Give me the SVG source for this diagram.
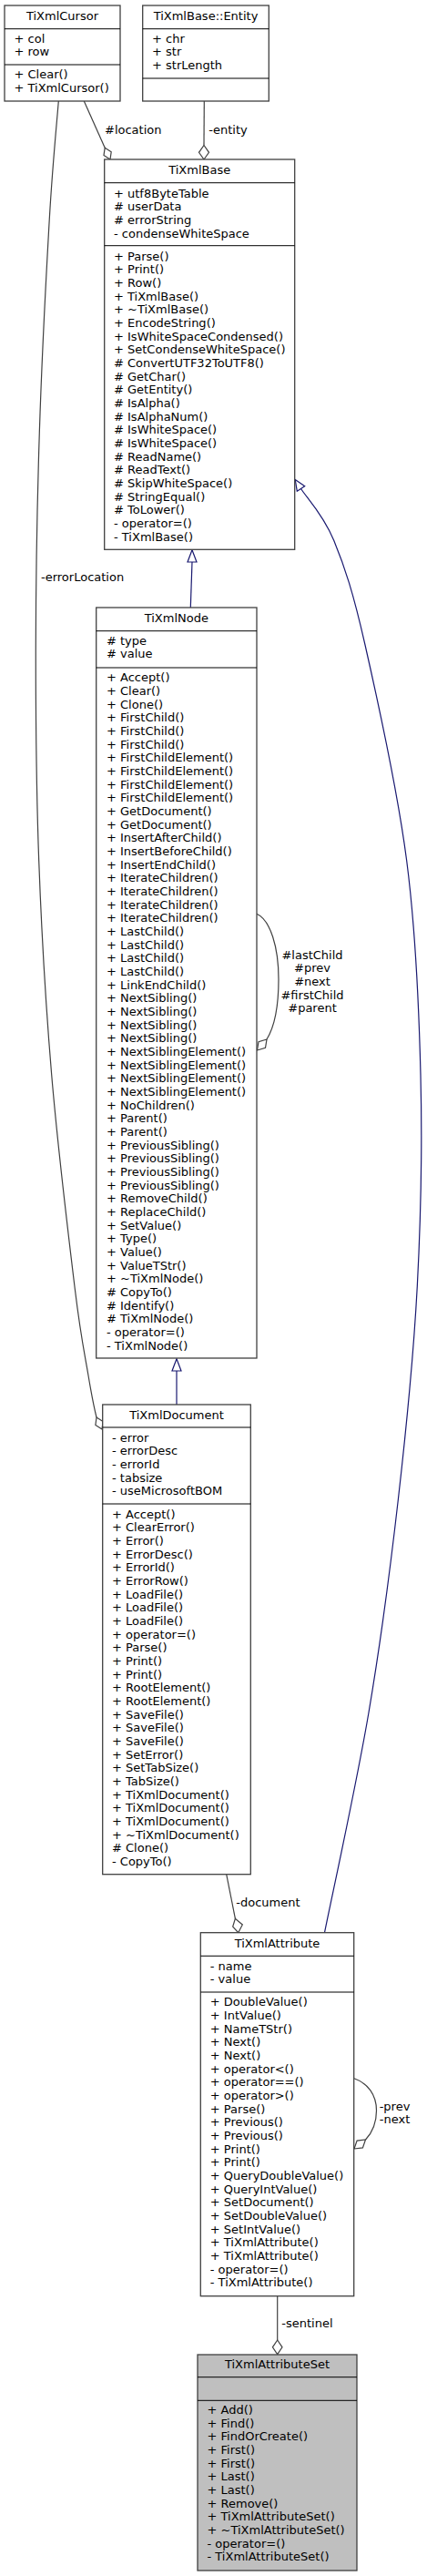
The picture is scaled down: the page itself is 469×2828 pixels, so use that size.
<svg xmlns="http://www.w3.org/2000/svg" width="469" height="2828" viewBox="0 0 469 2828">
<style>
.box{fill:#ffffff;stroke:#404040;stroke-width:1.3}
.sel{fill:#bfbfbf;stroke:#404040;stroke-width:1.3}
.div{stroke:#000000;stroke-width:1}
.t{font-family:"DejaVu Sans",sans-serif;font-size:13px;fill:#000000}
.c{text-anchor:middle}
.agg{fill:none;stroke:#404040;stroke-width:1.2}
.inh{fill:none;stroke:#191970;stroke-width:1.2}
.dia{fill:#ffffff;stroke:#404040;stroke-width:1.2}
.tri{fill:#ffffff;stroke:#191970;stroke-width:1.2}
</style>
<rect width="469" height="2828" fill="#ffffff"/>

<g id="connectors">
  <!-- #location -->
  <path class="agg" d="M92.3,111 L115.2,162.3"/>
  <polygon class="dia" points="121,175 122.2,166.8 115.2,162.3 114,170.5"/>
  <text class="t" x="115" y="146.7">#location</text>
  <!-- -entity -->
  <path class="agg" d="M224.3,111 L224,159.5"/>
  <polygon class="dia" points="224,175 229.5,167.3 224,159.5 218.5,167.3"/>
  <text class="t" x="229.3" y="146.7">-entity</text>
  <!-- -errorLocation -->
  <path class="agg" d="M64.3,111 C62.6,132.5 57.8,179.3 54.3,240 C50.8,300.7 45.8,396.7 43.3,475 C40.8,553.3 39.4,631.7 39.3,710 C39.2,788.3 39.8,866.7 42.7,945 C45.6,1023.3 50.1,1101.7 56.7,1180 C63.3,1258.3 75.6,1360 82.3,1415 C89,1470 93,1486 97,1510 C101,1534 104,1548 106,1556"/>
  <polygon class="dia" points="112,1569 113.1,1560.6 106,1556 104.9,1564.4"/>
  <text class="t" x="45" y="638.3">-errorLocation</text>
  <!-- TiXmlNode -> TiXmlBase -->
  <path class="inh" d="M209.3,667 L211,617"/>
  <polygon class="tri" points="211,603.8 216,617 206,617"/>
  <!-- TiXmlDocument -> TiXmlNode -->
  <path class="inh" d="M194,1542 L194,1505"/>
  <polygon class="tri" points="194,1491.8 199,1505 189,1505"/>
  <!-- TiXmlAttribute -> TiXmlBase -->
  <path class="inh" d="M356.5,2121.7 C364.6,2081.4 391.5,1959.5 405,1880 C418.5,1800.5 428.6,1723 437.5,1645 C446.4,1567 454.2,1489.5 458.3,1412 C462.4,1334.5 463.9,1257.8 462,1180 C460.1,1102.2 456.9,1023.7 446.7,945 C436.5,866.3 414.3,766.6 401,708 C387.7,649.4 378.5,622 366.7,593.3 C355,564.7 336.5,546 330.5,536.5"/>
  <polygon class="tri" points="324.2,526.5 334.7,533.8 326.3,539.2"/>
  <!-- self loop TiXmlNode -->
  <path class="agg" d="M282,1003.3 C297,1010 306,1040 306,1075 C306,1105 301,1128 293,1141"/>
  <polygon class="dia" points="282.5,1153 291.5,1150.3 293,1141 284,1143.7"/>
  <text class="t c" x="343" y="1052.7">#lastChild</text>
  <text class="t c" x="343" y="1067.4">#prev</text>
  <text class="t c" x="343" y="1082">#next</text>
  <text class="t c" x="343" y="1096.7">#firstChild</text>
  <text class="t c" x="343" y="1111.4">#parent</text>
  <!-- -document -->
  <path class="agg" d="M248.7,2057.7 L258.4,2106.3"/>
  <polygon class="dia" points="261.7,2121.7 266.3,2113 258.4,2106.3 255.7,2115.2"/>
  <text class="t" x="259.3" y="2092.7">-document</text>
  <!-- self loop TiXmlAttribute -->
  <path class="agg" d="M389,2281.7 C404,2287 413.5,2300 413.5,2317 C413.5,2330 409,2341 401.5,2349"/>
  <polygon class="dia" points="389,2359 398.4,2357.9 401.5,2349 392.1,2350.1"/>
  <text class="t c" x="433.5" y="2316.7">-prev</text>
  <text class="t c" x="433.5" y="2331.4">-next</text>
  <!-- -sentinel -->
  <path class="agg" d="M304.7,2520.7 L304.7,2569"/>
  <polygon class="dia" points="304.7,2584.7 310,2576.8 304.7,2569 299.4,2576.8"/>
  <text class="t" x="309.3" y="2555">-sentinel</text>
</g>

<g id="TiXmlCursor">
  <rect class="box" x="5" y="6" width="127" height="105"/>
  <line class="div" x1="5" y1="31.7" x2="132" y2="31.7"/>
  <line class="div" x1="5" y1="71" x2="132" y2="71"/>
  <text class="t c" x="68.5" y="21.5">TiXmlCursor</text>
  <text class="t" x="15.5" y="46.5"><tspan x="15.5">+ col</tspan><tspan x="15.5" dy="14.67">+ row</tspan></text>
  <text class="t" x="15.5" y="86"><tspan x="15.5">+ Clear()</tspan><tspan x="15.5" dy="14.67">+ TiXmlCursor()</tspan></text>
</g>

<g id="TiXmlBase_Entity">
  <rect class="box" x="156.7" y="6" width="138.6" height="105"/>
  <line class="div" x1="156.7" y1="31.7" x2="295.3" y2="31.7"/>
  <line class="div" x1="156.7" y1="86" x2="295.3" y2="86"/>
  <text class="t c" x="226" y="21.5">TiXmlBase::Entity</text>
  <text class="t" x="167" y="46.5"><tspan x="167">+ chr</tspan><tspan x="167" dy="14.67">+ str</tspan><tspan x="167" dy="14.67">+ strLength</tspan></text>
</g>

<g id="TiXmlBase">
  <rect class="box" x="114.7" y="175" width="209" height="428.3"/>
  <line class="div" x1="114.7" y1="200.7" x2="323.7" y2="200.7"/>
  <line class="div" x1="114.7" y1="269.7" x2="323.7" y2="269.7"/>
  <text class="t c" x="219.2" y="190.7">TiXmlBase</text>
  <text class="t" x="125" y="216.5"><tspan x="125">+ utf8ByteTable</tspan><tspan x="125" dy="14.67"># userData</tspan><tspan x="125" dy="14.67"># errorString</tspan><tspan x="125" dy="14.67">- condenseWhiteSpace</tspan></text>
  <text class="t" x="125" y="285.5"><tspan x="125">+ Parse()</tspan><tspan x="125" dy="14.67">+ Print()</tspan><tspan x="125" dy="14.67">+ Row()</tspan><tspan x="125" dy="14.67">+ TiXmlBase()</tspan><tspan x="125" dy="14.67">+ ~TiXmlBase()</tspan><tspan x="125" dy="14.67">+ EncodeString()</tspan><tspan x="125" dy="14.67">+ IsWhiteSpaceCondensed()</tspan><tspan x="125" dy="14.67">+ SetCondenseWhiteSpace()</tspan><tspan x="125" dy="14.67"># ConvertUTF32ToUTF8()</tspan><tspan x="125" dy="14.67"># GetChar()</tspan><tspan x="125" dy="14.67"># GetEntity()</tspan><tspan x="125" dy="14.67"># IsAlpha()</tspan><tspan x="125" dy="14.67"># IsAlphaNum()</tspan><tspan x="125" dy="14.67"># IsWhiteSpace()</tspan><tspan x="125" dy="14.67"># IsWhiteSpace()</tspan><tspan x="125" dy="14.67"># ReadName()</tspan><tspan x="125" dy="14.67"># ReadText()</tspan><tspan x="125" dy="14.67"># SkipWhiteSpace()</tspan><tspan x="125" dy="14.67"># StringEqual()</tspan><tspan x="125" dy="14.67"># ToLower()</tspan><tspan x="125" dy="14.67">- operator=()</tspan><tspan x="125" dy="14.67">- TiXmlBase()</tspan></text>
</g>

<g id="TiXmlNode">
  <rect class="box" x="105.7" y="667" width="176.3" height="824"/>
  <line class="div" x1="105.7" y1="692.7" x2="282" y2="692.7"/>
  <line class="div" x1="105.7" y1="733" x2="282" y2="733"/>
  <text class="t c" x="193.8" y="683.3">TiXmlNode</text>
  <text class="t" x="117" y="707.7"><tspan x="117"># type</tspan><tspan x="117" dy="14.67"># value</tspan></text>
  <text class="t" x="117" y="748.3"><tspan x="117">+ Accept()</tspan><tspan x="117" dy="14.67">+ Clear()</tspan><tspan x="117" dy="14.67">+ Clone()</tspan><tspan x="117" dy="14.67">+ FirstChild()</tspan><tspan x="117" dy="14.67">+ FirstChild()</tspan><tspan x="117" dy="14.67">+ FirstChild()</tspan><tspan x="117" dy="14.67">+ FirstChildElement()</tspan><tspan x="117" dy="14.67">+ FirstChildElement()</tspan><tspan x="117" dy="14.67">+ FirstChildElement()</tspan><tspan x="117" dy="14.67">+ FirstChildElement()</tspan><tspan x="117" dy="14.67">+ GetDocument()</tspan><tspan x="117" dy="14.67">+ GetDocument()</tspan><tspan x="117" dy="14.67">+ InsertAfterChild()</tspan><tspan x="117" dy="14.67">+ InsertBeforeChild()</tspan><tspan x="117" dy="14.67">+ InsertEndChild()</tspan><tspan x="117" dy="14.67">+ IterateChildren()</tspan><tspan x="117" dy="14.67">+ IterateChildren()</tspan><tspan x="117" dy="14.67">+ IterateChildren()</tspan><tspan x="117" dy="14.67">+ IterateChildren()</tspan><tspan x="117" dy="14.67">+ LastChild()</tspan><tspan x="117" dy="14.67">+ LastChild()</tspan><tspan x="117" dy="14.67">+ LastChild()</tspan><tspan x="117" dy="14.67">+ LastChild()</tspan><tspan x="117" dy="14.67">+ LinkEndChild()</tspan><tspan x="117" dy="14.67">+ NextSibling()</tspan><tspan x="117" dy="14.67">+ NextSibling()</tspan><tspan x="117" dy="14.67">+ NextSibling()</tspan><tspan x="117" dy="14.67">+ NextSibling()</tspan><tspan x="117" dy="14.67">+ NextSiblingElement()</tspan><tspan x="117" dy="14.67">+ NextSiblingElement()</tspan><tspan x="117" dy="14.67">+ NextSiblingElement()</tspan><tspan x="117" dy="14.67">+ NextSiblingElement()</tspan><tspan x="117" dy="14.67">+ NoChildren()</tspan><tspan x="117" dy="14.67">+ Parent()</tspan><tspan x="117" dy="14.67">+ Parent()</tspan><tspan x="117" dy="14.67">+ PreviousSibling()</tspan><tspan x="117" dy="14.67">+ PreviousSibling()</tspan><tspan x="117" dy="14.67">+ PreviousSibling()</tspan><tspan x="117" dy="14.67">+ PreviousSibling()</tspan><tspan x="117" dy="14.67">+ RemoveChild()</tspan><tspan x="117" dy="14.67">+ ReplaceChild()</tspan><tspan x="117" dy="14.67">+ SetValue()</tspan><tspan x="117" dy="14.67">+ Type()</tspan><tspan x="117" dy="14.67">+ Value()</tspan><tspan x="117" dy="14.67">+ ValueTStr()</tspan><tspan x="117" dy="14.67">+ ~TiXmlNode()</tspan><tspan x="117" dy="14.67"># CopyTo()</tspan><tspan x="117" dy="14.67"># Identify()</tspan><tspan x="117" dy="14.67"># TiXmlNode()</tspan><tspan x="117" dy="14.67">- operator=()</tspan><tspan x="117" dy="14.67">- TiXmlNode()</tspan></text>
</g>

<g id="TiXmlDocument">
  <rect class="box" x="112.7" y="1542" width="162.6" height="515.7"/>
  <line class="div" x1="112.7" y1="1567" x2="275.3" y2="1567"/>
  <line class="div" x1="112.7" y1="1651" x2="275.3" y2="1651"/>
  <text class="t c" x="194" y="1558.3">TiXmlDocument</text>
  <text class="t" x="123" y="1582.7"><tspan x="123">- error</tspan><tspan x="123" dy="14.67">- errorDesc</tspan><tspan x="123" dy="14.67">- errorId</tspan><tspan x="123" dy="14.67">- tabsize</tspan><tspan x="123" dy="14.67">- useMicrosoftBOM</tspan></text>
  <text class="t" x="123" y="1666.7"><tspan x="123">+ Accept()</tspan><tspan x="123" dy="14.67">+ ClearError()</tspan><tspan x="123" dy="14.67">+ Error()</tspan><tspan x="123" dy="14.67">+ ErrorDesc()</tspan><tspan x="123" dy="14.67">+ ErrorId()</tspan><tspan x="123" dy="14.67">+ ErrorRow()</tspan><tspan x="123" dy="14.67">+ LoadFile()</tspan><tspan x="123" dy="14.67">+ LoadFile()</tspan><tspan x="123" dy="14.67">+ LoadFile()</tspan><tspan x="123" dy="14.67">+ operator=()</tspan><tspan x="123" dy="14.67">+ Parse()</tspan><tspan x="123" dy="14.67">+ Print()</tspan><tspan x="123" dy="14.67">+ Print()</tspan><tspan x="123" dy="14.67">+ RootElement()</tspan><tspan x="123" dy="14.67">+ RootElement()</tspan><tspan x="123" dy="14.67">+ SaveFile()</tspan><tspan x="123" dy="14.67">+ SaveFile()</tspan><tspan x="123" dy="14.67">+ SaveFile()</tspan><tspan x="123" dy="14.67">+ SetError()</tspan><tspan x="123" dy="14.67">+ SetTabSize()</tspan><tspan x="123" dy="14.67">+ TabSize()</tspan><tspan x="123" dy="14.67">+ TiXmlDocument()</tspan><tspan x="123" dy="14.67">+ TiXmlDocument()</tspan><tspan x="123" dy="14.67">+ TiXmlDocument()</tspan><tspan x="123" dy="14.67">+ ~TiXmlDocument()</tspan><tspan x="123" dy="14.67"># Clone()</tspan><tspan x="123" dy="14.67">- CopyTo()</tspan></text>
</g>

<g id="TiXmlAttribute">
  <rect class="box" x="220.3" y="2121.7" width="168.4" height="399"/>
  <line class="div" x1="220.3" y1="2147.3" x2="388.7" y2="2147.3"/>
  <line class="div" x1="220.3" y1="2187" x2="388.7" y2="2187"/>
  <text class="t c" x="304.5" y="2137.7">TiXmlAttribute</text>
  <text class="t" x="230.8" y="2162.7"><tspan x="230.8">- name</tspan><tspan x="230.8" dy="14.67">- value</tspan></text>
  <text class="t" x="230.8" y="2202.3"><tspan x="230.8">+ DoubleValue()</tspan><tspan x="230.8" dy="14.67">+ IntValue()</tspan><tspan x="230.8" dy="14.67">+ NameTStr()</tspan><tspan x="230.8" dy="14.67">+ Next()</tspan><tspan x="230.8" dy="14.67">+ Next()</tspan><tspan x="230.8" dy="14.67">+ operator&lt;()</tspan><tspan x="230.8" dy="14.67">+ operator==()</tspan><tspan x="230.8" dy="14.67">+ operator&gt;()</tspan><tspan x="230.8" dy="14.67">+ Parse()</tspan><tspan x="230.8" dy="14.67">+ Previous()</tspan><tspan x="230.8" dy="14.67">+ Previous()</tspan><tspan x="230.8" dy="14.67">+ Print()</tspan><tspan x="230.8" dy="14.67">+ Print()</tspan><tspan x="230.8" dy="14.67">+ QueryDoubleValue()</tspan><tspan x="230.8" dy="14.67">+ QueryIntValue()</tspan><tspan x="230.8" dy="14.67">+ SetDocument()</tspan><tspan x="230.8" dy="14.67">+ SetDoubleValue()</tspan><tspan x="230.8" dy="14.67">+ SetIntValue()</tspan><tspan x="230.8" dy="14.67">+ TiXmlAttribute()</tspan><tspan x="230.8" dy="14.67">+ TiXmlAttribute()</tspan><tspan x="230.8" dy="14.67">- operator=()</tspan><tspan x="230.8" dy="14.67">- TiXmlAttribute()</tspan></text>
</g>

<g id="TiXmlAttributeSet">
  <rect class="sel" x="217" y="2585" width="175" height="237"/>
  <line class="div" x1="217" y1="2609.7" x2="392" y2="2609.7"/>
  <line class="div" x1="217" y1="2635.3" x2="392" y2="2635.3"/>
  <text class="t c" x="304.5" y="2600">TiXmlAttributeSet</text>
  <text class="t" x="227.5" y="2650"><tspan x="227.5">+ Add()</tspan><tspan x="227.5" dy="14.67">+ Find()</tspan><tspan x="227.5" dy="14.67">+ FindOrCreate()</tspan><tspan x="227.5" dy="14.67">+ First()</tspan><tspan x="227.5" dy="14.67">+ First()</tspan><tspan x="227.5" dy="14.67">+ Last()</tspan><tspan x="227.5" dy="14.67">+ Last()</tspan><tspan x="227.5" dy="14.67">+ Remove()</tspan><tspan x="227.5" dy="14.67">+ TiXmlAttributeSet()</tspan><tspan x="227.5" dy="14.67">+ ~TiXmlAttributeSet()</tspan><tspan x="227.5" dy="14.67">- operator=()</tspan><tspan x="227.5" dy="14.67">- TiXmlAttributeSet()</tspan></text>
</g>
</svg>
